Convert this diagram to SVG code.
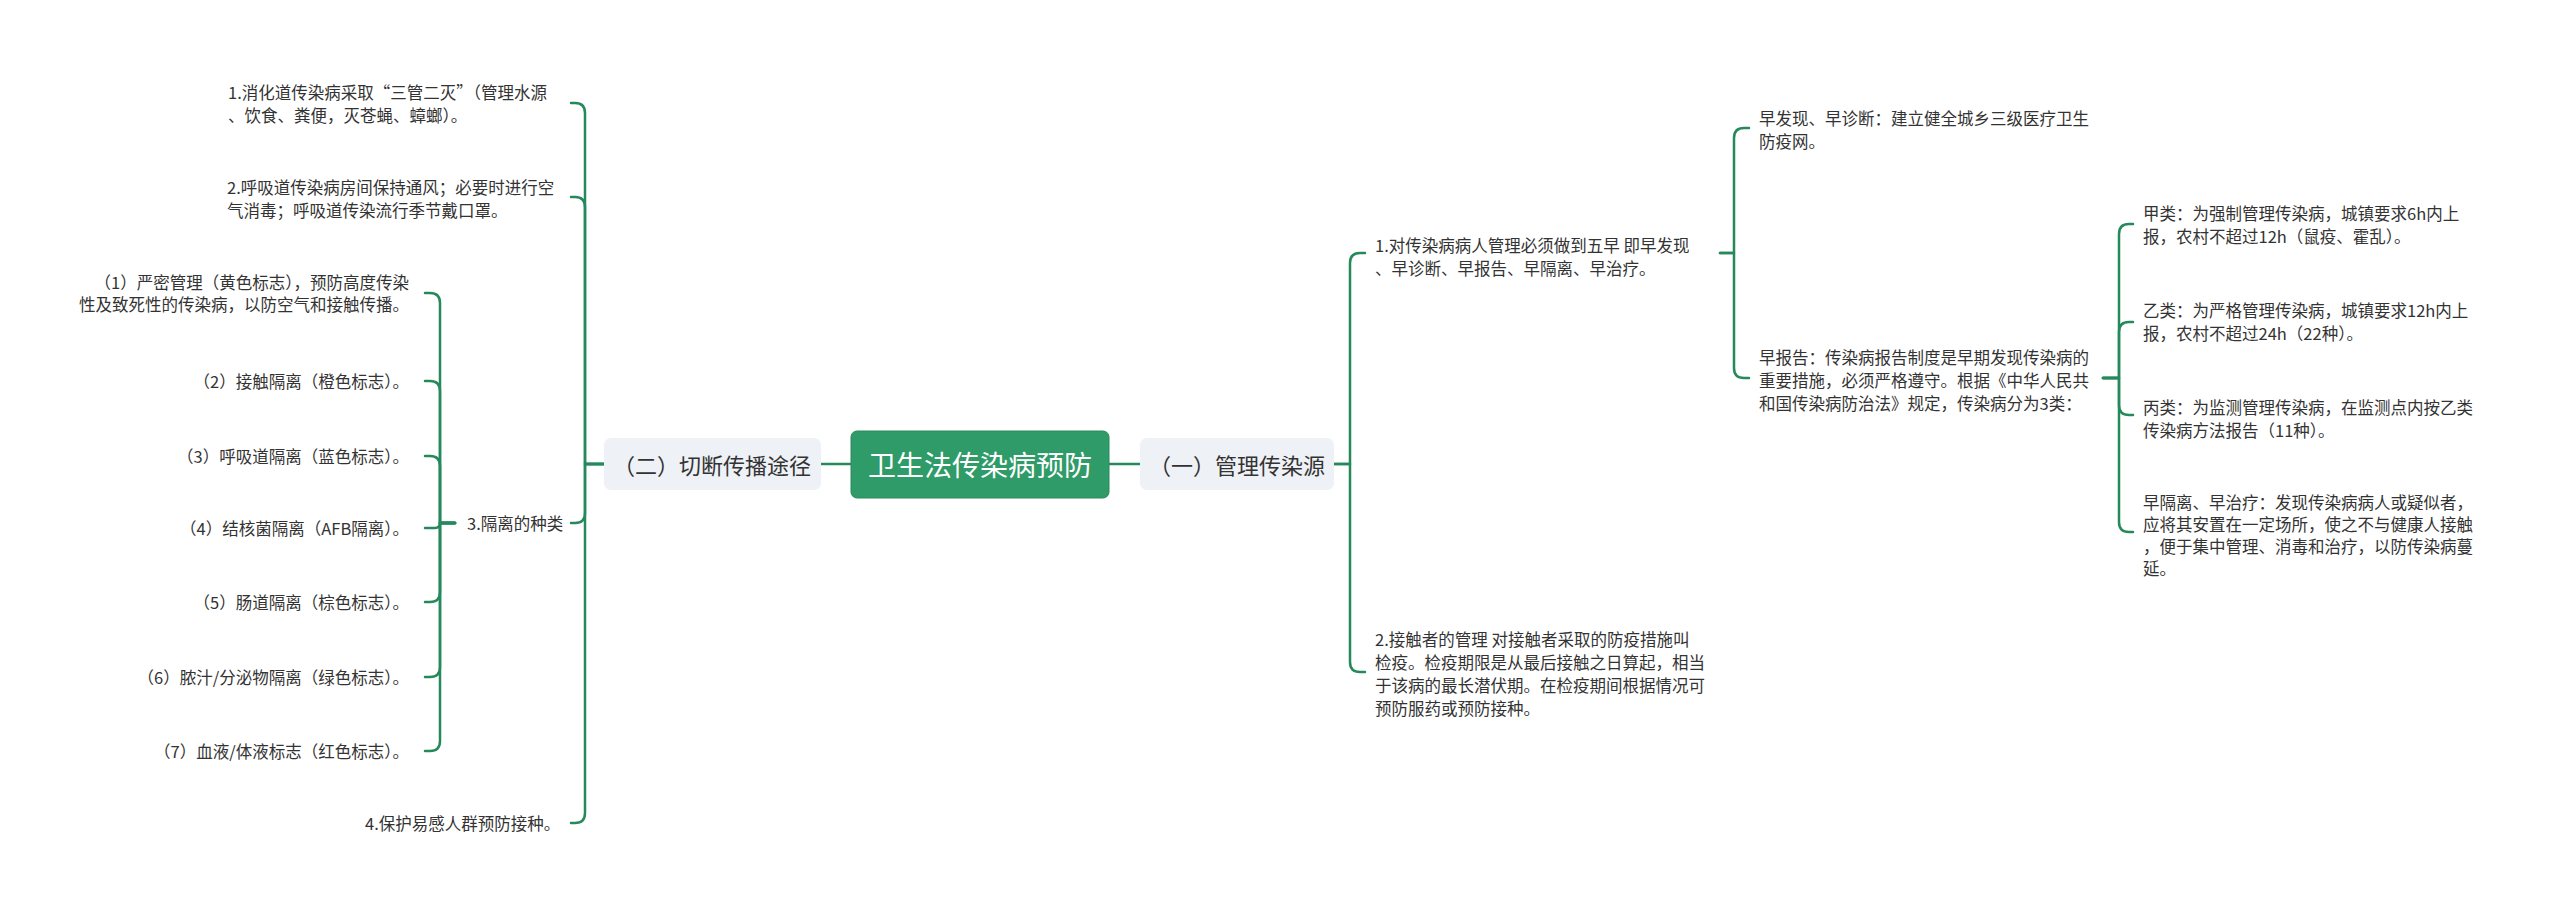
<svg xmlns="http://www.w3.org/2000/svg" width="2560" height="917" viewBox="0 0 2560 917">
<style>
  text { font-family: "Noto Sans CJK SC", "Liberation Sans", sans-serif; fill: #333333; dominant-baseline: central; }
  .t { font-size: 16.5px; }
  .e { text-anchor: end; }
  .sub { font-size: 22px; text-anchor: middle; }
  .root { font-size: 28px; text-anchor: middle; fill: #ffffff; }
  .subbox { fill: #eef1f5; }
  .rootbox { fill: #2e9b68; stroke: #2a8a5c; stroke-width: 1; }
  .conn { fill: none; stroke: #26895b; stroke-width: 2.5; stroke-linecap: round; stroke-linejoin: round; }
</style>
<rect width="2560" height="917" fill="#ffffff"/>

<g id="connectors" class="conn">
  <path d="M821 464 H851"/>
  <path d="M1109 464 H1140"/>
  <!-- left main bracket -->
  <path d="M604 464 H585 V113 Q585 103 575 103 H571"/>
  <path d="M604 464 H585 V207 Q585 197 575 197 H571"/>
  <path d="M604 464 H585 V513 Q585 523 575 523 H571"/>
  <path d="M604 464 H585 V813 Q585 823 575 823 H571"/>
  <!-- isolation types bracket -->
  <path d="M455 523 H440 V303 Q440 293 430 293 H425"/>
  <path d="M455 523 H440 V391 Q440 381 430 381 H425"/>
  <path d="M455 523 H440 V466 Q440 456 430 456 H425"/>
  <path d="M455 523 H440 Q440 528 435 528 H425"/>
  <path d="M455 523 H440 V592 Q440 602 430 602 H425"/>
  <path d="M455 523 H440 V667 Q440 677 430 677 H425"/>
  <path d="M455 523 H440 V741 Q440 751 430 751 H425"/>
  <!-- right main bracket -->
  <path d="M1334 464 H1350 V263 Q1350 253 1360 253 H1365"/>
  <path d="M1334 464 H1350 V662 Q1350 672 1360 672 H1365"/>
  <!-- five early bracket -->
  <path d="M1720 253 H1734 V138 Q1734 128 1744 128 H1749"/>
  <path d="M1720 253 H1734 V368 Q1734 378 1744 378 H1749"/>
  <!-- report classes bracket -->
  <path d="M2103 378 H2119 V234 Q2119 224 2129 224 H2133"/>
  <path d="M2103 378 H2119 V332 Q2119 322 2129 322 H2133"/>
  <path d="M2103 378 H2119 V405 Q2119 415 2129 415 H2133"/>
  <path d="M2103 378 H2119 V522 Q2119 532 2129 532 H2133"/>
</g>

<g id="root">
  <rect class="rootbox" x="851" y="431" width="258" height="67" rx="6"/>
  <text class="root" x="980" y="464">卫生法传染病预防</text>
</g>

<g id="cut-route">
  <rect class="subbox" x="604" y="438" width="217" height="52" rx="7"/>
  <text class="sub" x="712" y="464">（二）切断传播途径</text>
</g>

<g id="manage-source">
  <rect class="subbox" x="1140" y="438" width="194" height="52" rx="7"/>
  <text class="sub" x="1237" y="464">（一）管理传染源</text>
</g>

<g id="digestive">
  <text class="t" x="228" y="92">1.消化道传染病采取“三管二灭”（管理水源</text>
  <text class="t" x="228" y="115">、饮食、粪便，灭苍蝇、蟑螂）。</text>
</g>
<g id="respiratory">
  <text class="t" x="227" y="187">2.呼吸道传染病房间保持通风；必要时进行空</text>
  <text class="t" x="227" y="210">气消毒；呼吸道传染流行季节戴口罩。</text>
</g>
<g id="isolation-types">
  <text class="t" x="467" y="523">3.隔离的种类</text>
</g>
<g id="protect">
  <text class="t" x="365" y="823">4.保护易感人群预防接种。</text>
</g>

<g id="iso-1">
  <text class="t e" x="409" y="282">（1）严密管理（黄色标志），预防高度传染</text>
  <text class="t e" x="409" y="304">性及致死性的传染病，以防空气和接触传播。</text>
</g>
<g id="iso-2"><text class="t e" x="409" y="381">（2）接触隔离（橙色标志）。</text></g>
<g id="iso-3"><text class="t e" x="409" y="456">（3）呼吸道隔离（蓝色标志）。</text></g>
<g id="iso-4"><text class="t e" x="409" y="528">（4）结核菌隔离（AFB隔离）。</text></g>
<g id="iso-5"><text class="t e" x="409" y="602">（5）肠道隔离（棕色标志）。</text></g>
<g id="iso-6"><text class="t e" x="409" y="677">（6）脓汁/分泌物隔离（绿色标志）。</text></g>
<g id="iso-7"><text class="t e" x="409" y="751">（7）血液/体液标志（红色标志）。</text></g>

<g id="five-early">
  <text class="t" x="1375" y="245">1.对传染病病人管理必须做到五早 即早发现</text>
  <text class="t" x="1375" y="268">、早诊断、早报告、早隔离、早治疗。</text>
</g>
<g id="contacts">
  <text class="t" x="1375" y="639">2.接触者的管理 对接触者采取的防疫措施叫</text>
  <text class="t" x="1375" y="662">检疫。检疫期限是从最后接触之日算起，相当</text>
  <text class="t" x="1375" y="685">于该病的最长潜伏期。在检疫期间根据情况可</text>
  <text class="t" x="1375" y="708">预防服药或预防接种。</text>
</g>
<g id="early-detect">
  <text class="t" x="1759" y="118">早发现、早诊断：建立健全城乡三级医疗卫生</text>
  <text class="t" x="1759" y="141">防疫网。</text>
</g>
<g id="early-report">
  <text class="t" x="1759" y="357">早报告：传染病报告制度是早期发现传染病的</text>
  <text class="t" x="1759" y="380">重要措施，必须严格遵守。根据《中华人民共</text>
  <text class="t" x="1759" y="403">和国传染病防治法》规定，传染病分为3类：</text>
</g>
<g id="class-a">
  <text class="t" x="2143" y="213">甲类：为强制管理传染病，城镇要求6h内上</text>
  <text class="t" x="2143" y="236">报，农村不超过12h（鼠疫、霍乱）。</text>
</g>
<g id="class-b">
  <text class="t" x="2143" y="310">乙类：为严格管理传染病，城镇要求12h内上</text>
  <text class="t" x="2143" y="333">报，农村不超过24h（22种）。</text>
</g>
<g id="class-c">
  <text class="t" x="2143" y="407">丙类：为监测管理传染病，在监测点内按乙类</text>
  <text class="t" x="2143" y="430">传染病方法报告（11种）。</text>
</g>
<g id="early-isolate">
  <text class="t" x="2143" y="502">早隔离、早治疗：发现传染病病人或疑似者，</text>
  <text class="t" x="2143" y="524">应将其安置在一定场所，使之不与健康人接触</text>
  <text class="t" x="2143" y="546">，便于集中管理、消毒和治疗，以防传染病蔓</text>
  <text class="t" x="2143" y="568">延。</text>
</g>
</svg>
